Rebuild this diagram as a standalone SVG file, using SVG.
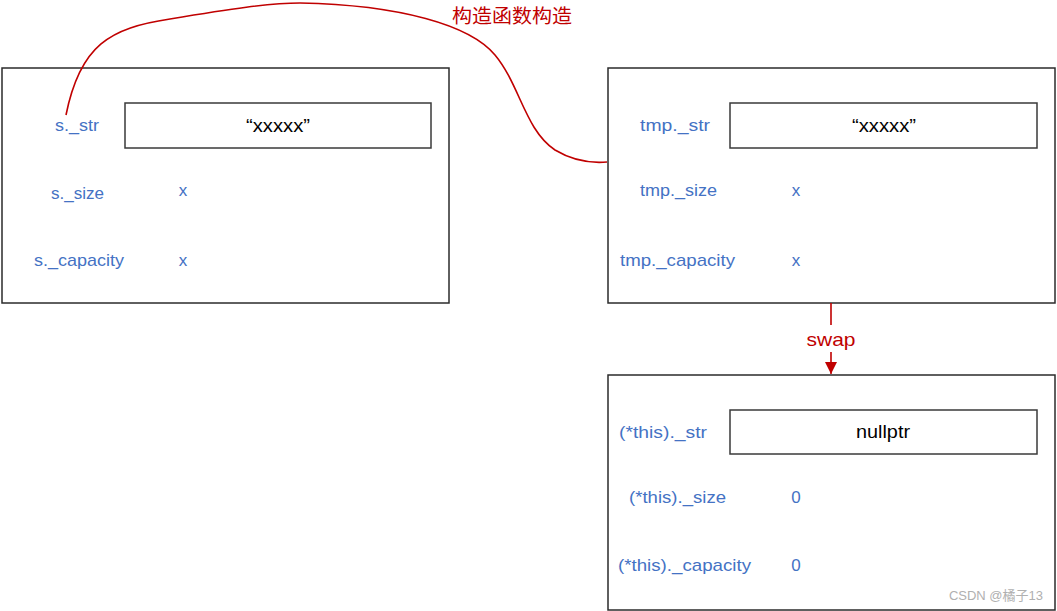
<svg xmlns="http://www.w3.org/2000/svg" width="1057" height="611" viewBox="0 0 1057 611">
<defs>
<style>
.box{fill:#fff;stroke:#2b2b2b;stroke-width:1.5}
.cell{fill:#fff;stroke:#3a3a3a;stroke-width:1.5}
.lbl{font-family:"Liberation Sans","Noto Sans",sans-serif;font-size:17px;fill:#4472C4;text-anchor:middle;dominant-baseline:central}
.val{font-family:"Liberation Sans","Noto Sans",sans-serif;font-size:18px;fill:#000;text-anchor:middle;dominant-baseline:central}
.red{font-family:"Liberation Sans","Noto Sans CJK SC",sans-serif;font-size:19px;fill:#C00000;text-anchor:middle;dominant-baseline:central}
.conn{fill:none;stroke:#C00000;stroke-width:1.6}
</style>
<marker id="arr" markerWidth="11" markerHeight="12" refX="12" refY="6" orient="auto" markerUnits="userSpaceOnUse">
<path d="M0,0 L12,6 L0,12 z" fill="#C00000"/>
</marker>
</defs>
<rect width="1057" height="611" fill="#fff"/>
<g id="node-s">
<rect class="box" x="2" y="68" width="447" height="235"/>
<rect class="cell" x="125" y="103" width="306" height="45"/>
<text class="val" x="278" y="126" textLength="64" lengthAdjust="spacingAndGlyphs">“xxxxx”</text>
<text class="lbl" x="77" y="125" textLength="44" lengthAdjust="spacingAndGlyphs">s._str</text>
<text class="lbl" x="77.5" y="193" textLength="53" lengthAdjust="spacingAndGlyphs">s._size</text>
<text class="lbl" x="79" y="260" textLength="90" lengthAdjust="spacingAndGlyphs">s._capacity</text>
<text class="lbl" x="183" y="190">x</text>
<text class="lbl" x="183" y="260">x</text>
</g>
<g id="node-tmp">
<rect class="box" x="608" y="68" width="447" height="235"/>
<rect class="cell" x="730" y="103" width="307" height="45"/>
<text class="val" x="884" y="126" textLength="64" lengthAdjust="spacingAndGlyphs">“xxxxx”</text>
<text class="lbl" x="675" y="125" textLength="70" lengthAdjust="spacingAndGlyphs">tmp._str</text>
<text class="lbl" x="678.5" y="190" textLength="77" lengthAdjust="spacingAndGlyphs">tmp._size</text>
<text class="lbl" x="677.5" y="260" textLength="115" lengthAdjust="spacingAndGlyphs">tmp._capacity</text>
<text class="lbl" x="796" y="190">x</text>
<text class="lbl" x="796" y="260">x</text>
</g>
<g id="node-this">
<rect class="box" x="608" y="375" width="447" height="235"/>
<rect class="cell" x="730" y="410" width="307" height="44"/>
<text class="val" x="883" y="432" textLength="54" lengthAdjust="spacingAndGlyphs">nullptr</text>
<text class="lbl" x="663" y="432" textLength="88" lengthAdjust="spacingAndGlyphs">(*this)._str</text>
<text class="lbl" x="677.5" y="497" textLength="97" lengthAdjust="spacingAndGlyphs">(*this)._size</text>
<text class="lbl" x="684.5" y="565" textLength="133" lengthAdjust="spacingAndGlyphs">(*this)._capacity</text>
<text class="lbl" x="796" y="497">0</text>
<text class="lbl" x="796" y="565">0</text>
</g>
<g id="connectors">
<path class="conn" d="M66,115 C80,45 110,28 170,19 C230,9 270,3 300,3 C400,5 470,25 495,55 C520,85 525,130 555,150 C575,162 595,163 607,162"/>
<text class="red" x="512" y="16" textLength="120" lengthAdjust="spacingAndGlyphs">构造函数构造</text>
<path class="conn" d="M831,303 L831,325"/>
<path class="conn" d="M831,352 L831,374" marker-end="url(#arr)"/>
<text class="red" x="831" y="339" textLength="49" lengthAdjust="spacingAndGlyphs">swap</text>
</g>
<text x="1043" y="595" font-family="Liberation Sans,Noto Sans CJK SC,sans-serif" font-size="13" fill="#b0b0b0" text-anchor="end" dominant-baseline="central">CSDN @橘子13</text>
</svg>
